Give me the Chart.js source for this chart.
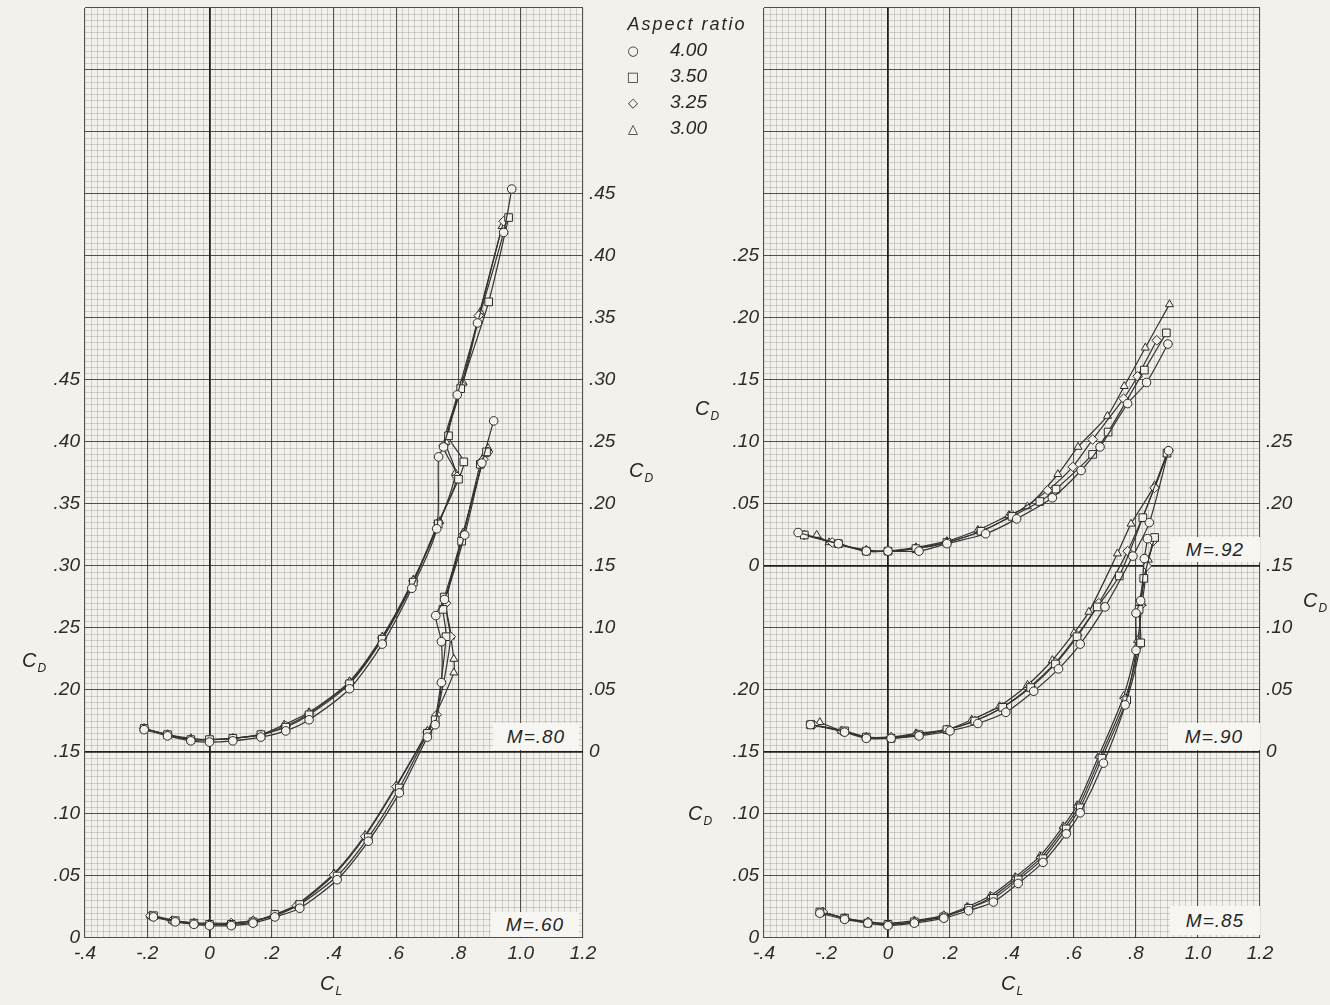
<!DOCTYPE html>
<html>
<head>
<meta charset="utf-8">
<script src="https://cdn.jsdelivr.net/npm/chart.js@4.4.0/dist/chart.umd.min.js"></script>
<style>
	body { margin: 0; width: 1330px; height: 1005px; overflow: hidden; position: relative; background: #f3f1eb; color: #262626; font-family: "Liberation Sans", "DejaVu Sans", sans-serif; font-style: italic; }
	canvas { position: absolute; top: 0; }
	.t { position: absolute; transform: translate(-50%, -50%); white-space: nowrap; font-size: 20px; }
	.t sub { font-size: 12px; vertical-align: -5px; margin-left: 1px; }
	.mach { position: absolute; background: #f7f6f2; font-size: 19px; display: flex; align-items: center; justify-content: center; letter-spacing: 1px; }
	.leg { position: absolute; font-size: 19px; }
	.mk { position: absolute; transform: translate(-50%, -50%); font-style: normal; font-size: 13px; font-family: "DejaVu Sans", sans-serif; }
</style>
</head>
<body>
<canvas id="left" width="680" height="1005" style="left:0"></canvas>
<canvas id="right" width="650" height="1005" style="left:680px"></canvas>

<div class="t" style="left:687px;top:24px;font-size:18px;letter-spacing:2px">Aspect ratio</div>
<div class="mk" style="left:633px;top:50px">○</div><div class="leg" style="left:670px;top:39px">4.00</div>
<div class="mk" style="left:633px;top:76px">□</div><div class="leg" style="left:670px;top:65px">3.50</div>
<div class="mk" style="left:633px;top:102px">◇</div><div class="leg" style="left:670px;top:91px">3.25</div>
<div class="mk" style="left:633px;top:128px">△</div><div class="leg" style="left:670px;top:117px">3.00</div>

<div class="t" style="left:34px;top:662px">C<sub>D</sub></div>
<div class="t" style="left:641px;top:472px">C<sub>D</sub></div>
<div class="t" style="left:331px;top:985px">C<sub>L</sub></div>
<div class="t" style="left:707px;top:410px">C<sub>D</sub></div>
<div class="t" style="left:700px;top:815px">C<sub>D</sub></div>
<div class="t" style="left:1315px;top:602px">C<sub>D</sub></div>
<div class="t" style="left:1012px;top:985px">C<sub>L</sub></div>

<div class="mach" style="left:493px;top:723px;width:86px;height:27px">M=.80</div>
<div class="mach" style="left:491px;top:912px;width:88px;height:25px">M=.60</div>
<div class="mach" style="left:1170px;top:537px;width:90px;height:25px">M=.92</div>
<div class="mach" style="left:1168px;top:723px;width:92px;height:27px">M=.90</div>
<div class="mach" style="left:1170px;top:906px;width:90px;height:29px">M=.85</div>

<script>
// aspect ratios, in legend order
const aspectRatios = ["4.00", "3.50", "3.25", "3.00"];

// [CL, CD] pairs
// M = .60 (left scale, left panel)
const m60_400 = [[-0.18,0.017],[-0.11,0.013],[-0.05,0.011],[0.0,0.010],[0.07,0.010],[0.14,0.012],[0.21,0.017],[0.29,0.024],[0.41,0.047],[0.51,0.078],[0.61,0.117],[0.70,0.162],[0.725,0.172],[0.745,0.206],[0.745,0.239],[0.727,0.260],[0.755,0.273],[0.82,0.325],[0.875,0.383],[0.913,0.417]];
const m60_350 = [[-0.18,0.018],[-0.11,0.014],[-0.05,0.012],[0.0,0.011],[0.07,0.011],[0.14,0.013],[0.21,0.019],[0.29,0.027],[0.41,0.050],[0.51,0.081],[0.61,0.121],[0.70,0.165],[0.725,0.176],[0.76,0.243],[0.75,0.265],[0.755,0.275],[0.81,0.320],[0.87,0.382],[0.89,0.392]];
const m60_325 = [[-0.19,0.018],[-0.12,0.014],[-0.05,0.012],[0.0,0.011],[0.07,0.012],[0.14,0.014],[0.21,0.018],[0.28,0.026],[0.40,0.051],[0.50,0.082],[0.60,0.122],[0.70,0.166],[0.73,0.180],[0.775,0.243],[0.76,0.270],[0.815,0.325],[0.88,0.386],[0.895,0.392]];
const m60_300 = [[-0.19,0.018],[-0.12,0.014],[-0.05,0.012],[0.0,0.012],[0.07,0.012],[0.14,0.014],[0.21,0.019],[0.28,0.027],[0.40,0.052],[0.50,0.083],[0.60,0.123],[0.70,0.167],[0.785,0.214],[0.785,0.225],[0.775,0.243],[0.76,0.272],[0.815,0.327],[0.885,0.390],[0.895,0.395]];

// M = .80 (right scale, left panel)
const m80_400 = [[-0.21,0.018],[-0.135,0.013],[-0.06,0.009],[0.0,0.008],[0.075,0.009],[0.165,0.012],[0.245,0.017],[0.32,0.026],[0.45,0.051],[0.555,0.087],[0.65,0.132],[0.73,0.180],[0.736,0.238],[0.752,0.246],[0.796,0.288],[0.861,0.346],[0.945,0.419],[0.971,0.454]];
const m80_350 = [[-0.21,0.019],[-0.135,0.014],[-0.06,0.010],[0.0,0.010],[0.075,0.011],[0.165,0.014],[0.245,0.020],[0.32,0.030],[0.45,0.055],[0.555,0.091],[0.655,0.137],[0.735,0.184],[0.80,0.220],[0.817,0.234],[0.768,0.255],[0.807,0.293],[0.897,0.363],[0.961,0.431]];
const m80_325 = [[-0.21,0.019],[-0.135,0.014],[-0.06,0.010],[0.0,0.010],[0.075,0.011],[0.165,0.014],[0.245,0.021],[0.32,0.031],[0.45,0.056],[0.555,0.092],[0.655,0.138],[0.735,0.185],[0.795,0.222],[0.752,0.247],[0.81,0.296],[0.865,0.352],[0.945,0.428]];
const m80_300 = [[-0.21,0.019],[-0.135,0.014],[-0.06,0.011],[0.0,0.010],[0.075,0.011],[0.165,0.014],[0.24,0.022],[0.32,0.032],[0.45,0.057],[0.555,0.093],[0.655,0.139],[0.74,0.186],[0.79,0.225],[0.76,0.250],[0.815,0.298],[0.87,0.355],[0.94,0.424]];

// M = .85 (left scale, right panel)
const m85_400 = [[-0.22,0.020],[-0.14,0.015],[-0.065,0.012],[0.0,0.010],[0.085,0.012],[0.18,0.016],[0.26,0.022],[0.34,0.029],[0.42,0.044],[0.50,0.061],[0.575,0.084],[0.62,0.101],[0.695,0.141],[0.765,0.188],[0.80,0.232],[0.80,0.262],[0.815,0.272],[0.827,0.306],[0.837,0.322]];
const m85_350 = [[-0.22,0.021],[-0.14,0.016],[-0.065,0.012],[0.0,0.011],[0.085,0.013],[0.18,0.017],[0.26,0.024],[0.34,0.032],[0.42,0.047],[0.50,0.064],[0.575,0.088],[0.62,0.105],[0.69,0.145],[0.77,0.192],[0.815,0.238],[0.81,0.265],[0.825,0.290],[0.86,0.323]];
const m85_325 = [[-0.21,0.021],[-0.14,0.016],[-0.065,0.013],[0.0,0.011],[0.085,0.013],[0.18,0.018],[0.26,0.024],[0.335,0.033],[0.415,0.048],[0.495,0.065],[0.57,0.089],[0.615,0.106],[0.685,0.146],[0.765,0.193],[0.81,0.236],[0.815,0.268],[0.835,0.300],[0.855,0.320]];
const m85_300 = [[-0.21,0.021],[-0.14,0.016],[-0.065,0.013],[0.0,0.012],[0.085,0.014],[0.18,0.018],[0.255,0.025],[0.33,0.034],[0.41,0.049],[0.49,0.066],[0.565,0.090],[0.61,0.107],[0.68,0.147],[0.76,0.195],[0.805,0.240],[0.82,0.270],[0.84,0.305],[0.86,0.322]];

// M = .90 (right scale, right panel)
const m90_400 = [[-0.25,0.022],[-0.14,0.016],[-0.07,0.011],[0.01,0.011],[0.10,0.013],[0.20,0.017],[0.29,0.023],[0.38,0.032],[0.47,0.049],[0.55,0.067],[0.62,0.087],[0.70,0.117],[0.79,0.158],[0.843,0.185],[0.905,0.243]];
const m90_350 = [[-0.25,0.022],[-0.14,0.017],[-0.07,0.012],[0.01,0.011],[0.10,0.014],[0.19,0.018],[0.28,0.025],[0.37,0.036],[0.46,0.052],[0.54,0.071],[0.61,0.093],[0.675,0.117],[0.746,0.142],[0.822,0.189],[0.90,0.241]];
const m90_325 = [[-0.24,0.022],[-0.15,0.017],[-0.07,0.012],[0.01,0.012],[0.095,0.014],[0.19,0.018],[0.28,0.025],[0.37,0.036],[0.46,0.053],[0.54,0.072],[0.61,0.094],[0.68,0.120],[0.773,0.162],[0.86,0.213],[0.905,0.243]];
const m90_300 = [[-0.22,0.024],[-0.15,0.017],[-0.07,0.012],[0.01,0.012],[0.09,0.015],[0.19,0.018],[0.27,0.026],[0.36,0.037],[0.45,0.054],[0.53,0.074],[0.60,0.096],[0.648,0.113],[0.74,0.160],[0.784,0.184],[0.86,0.215],[0.90,0.240]];

// M = .92 (upper left scale, right panel)
const m92_400 = [[-0.29,0.027],[-0.16,0.018],[-0.07,0.012],[0.0,0.012],[0.10,0.012],[0.19,0.018],[0.315,0.026],[0.415,0.038],[0.53,0.055],[0.623,0.077],[0.684,0.096],[0.773,0.131],[0.834,0.148],[0.903,0.179]];
const m92_350 = [[-0.27,0.025],[-0.16,0.018],[-0.07,0.012],[0.0,0.012],[0.09,0.014],[0.19,0.019],[0.30,0.028],[0.40,0.040],[0.49,0.052],[0.542,0.062],[0.66,0.090],[0.71,0.108],[0.827,0.158],[0.898,0.188]];
const m92_325 = [[-0.27,0.025],[-0.18,0.019],[-0.07,0.012],[0.0,0.012],[0.09,0.014],[0.19,0.019],[0.30,0.028],[0.40,0.041],[0.515,0.061],[0.596,0.080],[0.66,0.102],[0.76,0.135],[0.805,0.153],[0.867,0.182]];
const m92_300 = [[-0.23,0.025],[-0.19,0.019],[-0.07,0.013],[0.0,0.012],[0.09,0.015],[0.19,0.020],[0.29,0.029],[0.39,0.041],[0.45,0.048],[0.548,0.074],[0.613,0.096],[0.708,0.121],[0.762,0.145],[0.83,0.176],[0.908,0.211]];

const PAPER = "#f3f1eb";
const INK = "#2b2b2b";
const markers = ["circle", "rect", "rectRot", "triangle"];
const markerSize = [4.3, 5.4, 4.8, 4.6];
const tickFont = { family: "Liberation Sans", style: "italic", size: 19 };

function series(points, i, axis) {
	return {
		label: aspectRatios[i],
		data: points.map((p) => ({ x: p[0], y: p[1] })),
		yAxisID: axis,
		showLine: true,
		tension: 0.25,
		borderColor: "#333",
		borderWidth: 1.2,
		pointStyle: markers[i],
		pointRadius: markerSize[i],
		pointBorderColor: INK,
		pointBorderWidth: 1,
		pointBackgroundColor: PAPER,
	};
}

function fmtY(v) {
	if (Math.abs(v) < 1e-9) return "0";
	return v.toFixed(2).replace(/^0/, "");
}

function fmtX(v) {
	if (Math.abs(v) < 1e-9) return "0";
	return v.toFixed(1).replace(/^(-?)0\./, "$1.");
}

// drop the half-label padding chart.js adds at the ends of an axis
function noEndPadding(s) {
	s.paddingTop = 0;
	s.paddingBottom = 0;
}

function xScale() {
	return {
		type: "linear",
		min: -0.4,
		max: 1.2,
		afterFit: (s) => { s.height = 67; },
		border: { display: false },
		grid: {
			drawTicks: false,
			color: (ctx) => {
				const i = Math.round(ctx.tick.value * 50);
				if (i === 0) return "#1e1e1e";
				return i % 10 === 0 ? "rgba(40,40,40,0.8)" : "rgba(105,105,105,0.33)";
			},
			lineWidth: (ctx) => {
				const i = Math.round(ctx.tick.value * 50);
				if (i === 0) return 1.8;
				return i % 10 === 0 ? 1.1 : 0.8;
			},
		},
		ticks: {
			stepSize: 0.02,
			autoSkip: false,
			maxRotation: 0,
			minRotation: 0,
			padding: 4,
			color: INK,
			font: tickFont,
			callback: (v) => (Math.round(v * 50) % 10 === 0 ? fmtX(v) : ""),
		},
	};
}

function yGrid(heavy, labelFn, width) {
	return {
		type: "linear",
		position: "left",
		min: 0,
		max: 0.75,
		afterFit: (s) => { s.width = width; noEndPadding(s); },
		border: { display: false },
		grid: {
			drawTicks: false,
			color: (ctx) => {
				const i = Math.round(ctx.tick.value * 200);
				if (heavy.includes(i)) return "#1e1e1e";
				return i % 10 === 0 ? "rgba(40,40,40,0.8)" : "rgba(105,105,105,0.33)";
			},
			lineWidth: (ctx) => {
				const i = Math.round(ctx.tick.value * 200);
				if (heavy.includes(i)) return 1.8;
				return i % 10 === 0 ? 1.1 : 0.8;
			},
		},
		ticks: {
			stepSize: 0.005,
			autoSkip: false,
			padding: 5,
			color: INK,
			font: tickFont,
			callback: (v) => {
				const i = Math.round(v * 200);
				return i % 10 === 0 ? labelFn(i / 200) : "";
			},
		},
	};
}

function yRight(top, width) {
	return {
		type: "linear",
		position: "right",
		min: -0.15,
		max: 0.6,
		afterFit: (s) => { s.width = width; noEndPadding(s); },
		border: { display: false },
		grid: { drawOnChartArea: false, drawTicks: false },
		ticks: {
			stepSize: 0.05,
			autoSkip: false,
			padding: 6,
			color: INK,
			font: tickFont,
			callback: (v) => (v > -1e-6 && v < top + 1e-6 ? fmtY(v) : ""),
		},
	};
}

const common = {
	responsive: false,
	animation: false,
	plugins: { legend: { display: false }, tooltip: { enabled: false } },
};

new Chart(document.getElementById("left"), {
	type: "scatter",
	data: {
		datasets: [
			series(m60_400, 0, "y"), series(m60_350, 1, "y"), series(m60_325, 2, "y"), series(m60_300, 3, "y"),
			series(m80_400, 0, "yR"), series(m80_350, 1, "yR"), series(m80_325, 2, "yR"), series(m80_300, 3, "yR"),
		],
	},
	options: {
		...common,
		layout: { padding: { top: 8, left: 0, right: 57, bottom: 0 } },
		scales: {
			x: xScale(),
			y: yGrid([30], (v) => (v <= 0.45 + 1e-6 ? fmtY(v) : ""), 85),
			yR: yRight(0.45, 40),
		},
	},
});

new Chart(document.getElementById("right"), {
	type: "scatter",
	data: {
		datasets: [
			series(m85_400, 0, "y"), series(m85_350, 1, "y"), series(m85_325, 2, "y"), series(m85_300, 3, "y"),
			series(m90_400, 0, "yR"), series(m90_350, 1, "yR"), series(m90_325, 2, "yR"), series(m90_300, 3, "yR"),
			series(m92_400, 0, "yU"), series(m92_350, 1, "yU"), series(m92_325, 2, "yU"), series(m92_300, 3, "yU"),
		],
	},
	options: {
		...common,
		layout: { padding: { top: 8, left: 0, right: 25, bottom: 0 } },
		scales: {
			x: xScale(),
			y: yGrid([30, 60], (v) => {
				if (v <= 0.2 + 1e-6) return fmtY(v);
				if (v >= 0.3 - 1e-6 && v <= 0.55 + 1e-6) return fmtY(v - 0.3);
				return "";
			}, 84),
			yR: yRight(0.25, 45),
			yU: { type: "linear", display: false, min: -0.3, max: 0.45 },
		},
	},
});
</script>
</body>
</html>
